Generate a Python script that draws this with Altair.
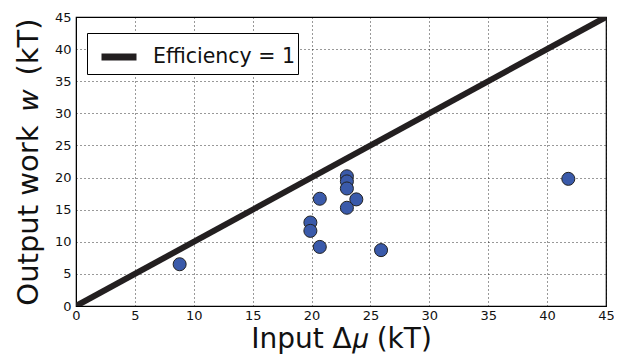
import altair as alt
import pandas as pd

# data
input_mu = [8.8, 20.7, 19.9, 19.9, 20.7, 23.0, 23.0, 23.0, 23.8, 23.0, 25.9, 41.8]
output_w = [6.5, 16.7, 13.0, 11.7, 9.2, 20.2, 19.4, 18.3, 16.6, 15.3, 8.7, 19.8]
line_x = [0, 45]
line_y = [0, 45]
line_label = "Efficiency = 1"
ticks = [0, 5, 10, 15, 20, 25, 30, 35, 40, 45]

pts = pd.DataFrame({"x": input_mu, "y": output_w})
ln = pd.DataFrame({"x": line_x, "y": line_y, "s": [line_label] * 2})

xscale = alt.Scale(domain=[0, 45], nice=False)
yscale = alt.Scale(domain=[0, 45], nice=False)

common = dict(values=ticks, titleFont="DejaVu Sans",
              titleFontWeight="normal", titleColor="#111",
              labelFont="DejaVu Sans", labelFontSize=13, labelColor="#111",
              labelOverlap=False, labelBound=False, labelFlush=False,
              grid=True, gridColor="#000", gridDash=[1, 3], gridWidth=1, gridOpacity=0.8,
              tickSize=0, domainColor="#000", domainWidth=1)
xaxis = alt.Axis(title="Input Δ𝜇 (kT)", titleFontSize=28, titlePadding=3, labelPadding=3, **common)
yaxis = alt.Axis(title="Output work \u2009𝑤\u2009 (kT)", titleFontSize=29, titlePadding=11,
                 labelPadding=5, **common)

line = alt.Chart(ln).mark_line(strokeWidth=6, clip=True).encode(
    x=alt.X("x:Q", scale=xscale, axis=xaxis),
    y=alt.Y("y:Q", scale=yscale, axis=yaxis),
    color=alt.Color("s:N", scale=alt.Scale(range=["#231f20"]),
                    legend=alt.Legend(orient="none", legendX=11, legendY=16, title=None,
                                      symbolType="stroke", symbolStrokeWidth=7, symbolSize=1225,
                                      labelFont="DejaVu Sans", labelFontSize=20.5, labelColor="#111",
                                      fillColor="white", strokeColor="#000", padding=3,
                                      symbolOffset=8, labelOffset=13)),
)

points = alt.Chart(pts).mark_circle(size=170, opacity=1, fill="#3a5aaa", stroke="#222",
                                    strokeWidth=1).encode(
    x=alt.X("x:Q", scale=xscale, axis=xaxis),
    y=alt.Y("y:Q", scale=yscale, axis=yaxis),
)

chart = alt.layer(line, points).properties(
    width=530, height=289,
    background="white",
    autosize=alt.AutoSizeParams(type="none"),
    padding={"left": 68, "top": 9, "right": 8, "bottom": 48},
).configure_view(stroke="#000", strokeWidth=1.2)

chart.save("out.html", embed_options={"renderer": "svg", "actions": False})
